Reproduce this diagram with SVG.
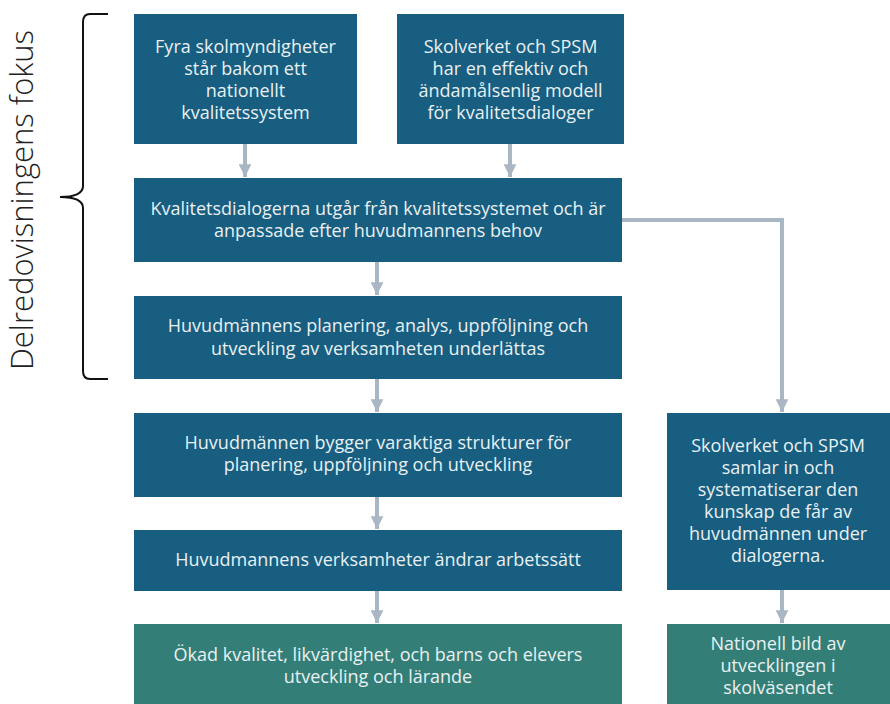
<svg xmlns="http://www.w3.org/2000/svg" width="890" height="704" viewBox="0 0 890 704">
<defs>
<style>
.b{fill:#175e80}
.g{fill:#337f77}
.t{font-family:"Open Sans",Lato,sans-serif;font-size:18px;fill:#e9f0f3;text-anchor:middle}
.c{stroke:#a9b7c4;stroke-width:4;fill:none}
</style>
<marker id="ah" viewBox="0 0 10 10" refX="10" refY="5" markerWidth="3.2" markerHeight="3.2" orient="auto" markerUnits="strokeWidth">
<path d="M0,0 L10,5 L0,10 z" fill="#a9b7c4"/>
</marker>
</defs>
<rect width="890" height="704" fill="#ffffff"/>
<g id="brace">
<path d="M108,14 H90 Q83,14 83,22 V186 Q83,197 60,197 Q83,197 83,208 V371 Q83,379 90,379 H108" fill="none" stroke="#111" stroke-width="2"/>
<text x="0" y="0" transform="translate(33,200) rotate(-90)" font-family="'Open Sans',Lato,sans-serif" font-size="31" font-weight="300" fill="#222" text-anchor="middle">Delredovisningens fokus</text>
</g>
<g id="connectors">
<line class="c" x1="245" y1="144" x2="245" y2="177" marker-end="url(#ah)"/>
<line class="c" x1="510" y1="144" x2="510" y2="177" marker-end="url(#ah)"/>
<line class="c" x1="377" y1="262" x2="377" y2="295" marker-end="url(#ah)"/>
<line class="c" x1="377" y1="379" x2="377" y2="412" marker-end="url(#ah)"/>
<line class="c" x1="377" y1="497" x2="377" y2="529" marker-end="url(#ah)"/>
<line class="c" x1="377" y1="591" x2="377" y2="623" marker-end="url(#ah)"/>
<path class="c" d="M622,220 H782 V412" marker-end="url(#ah)"/>
<line class="c" x1="782" y1="590" x2="782" y2="623" marker-end="url(#ah)"/>
</g>
<g id="n1"><rect class="b" x="134" y="14" width="223" height="130"/>
<text class="t"><tspan x="245.5" y="53">Fyra skolmyndigheter</tspan><tspan x="245.5" y="75">står bakom ett</tspan><tspan x="245.5" y="97">nationellt</tspan><tspan x="245.5" y="119">kvalitetssystem</tspan></text></g>
<g id="n2"><rect class="b" x="397" y="14" width="227" height="130"/>
<text class="t"><tspan x="510.5" y="53">Skolverket och SPSM</tspan><tspan x="510.5" y="75">har en effektiv och</tspan><tspan x="510.5" y="97">ändamålsenlig modell</tspan><tspan x="510.5" y="119">för kvalitetsdialoger</tspan></text></g>
<g id="n3"><rect class="b" x="134" y="178" width="488" height="84"/>
<text class="t"><tspan x="378" y="215">Kvalitetsdialogerna utgår från kvalitetssystemet och är</tspan><tspan x="378" y="237">anpassade efter huvudmannens behov</tspan></text></g>
<g id="n4"><rect class="b" x="134" y="296" width="488" height="83"/>
<text class="t"><tspan x="378" y="332">Huvudmännens planering, analys, uppföljning och</tspan><tspan x="378" y="355">utveckling av verksamheten underlättas</tspan></text></g>
<g id="n5"><rect class="b" x="134" y="413" width="488" height="84"/>
<text class="t"><tspan x="378" y="449">Huvudmännen bygger varaktiga strukturer för</tspan><tspan x="378" y="471">planering, uppföljning och utveckling</tspan></text></g>
<g id="n6"><rect class="b" x="134" y="530" width="488" height="61"/>
<text class="t"><tspan x="378" y="566">Huvudmannens verksamheter ändrar arbetssätt</tspan></text></g>
<g id="n7"><rect class="g" x="134" y="624" width="488" height="80"/>
<text class="t"><tspan x="378" y="661">Ökad kvalitet, likvärdighet, och barns och elevers</tspan><tspan x="378" y="683">utveckling och lärande</tspan></text></g>
<g id="n8"><rect class="b" x="667" y="413" width="223" height="177"/>
<text class="t"><tspan x="778" y="452">Skolverket och SPSM</tspan><tspan x="778" y="474">samlar in och</tspan><tspan x="778" y="496">systematiserar den</tspan><tspan x="778" y="518">kunskap de får av</tspan><tspan x="778" y="540">huvudmännen under</tspan><tspan x="778" y="562">dialogerna.</tspan></text></g>
<g id="n9"><rect class="g" x="667" y="624" width="223" height="80"/>
<text class="t"><tspan x="778" y="650">Nationell bild av</tspan><tspan x="778" y="672">utvecklingen i</tspan><tspan x="778" y="694">skolväsendet</tspan></text></g>
</svg>
